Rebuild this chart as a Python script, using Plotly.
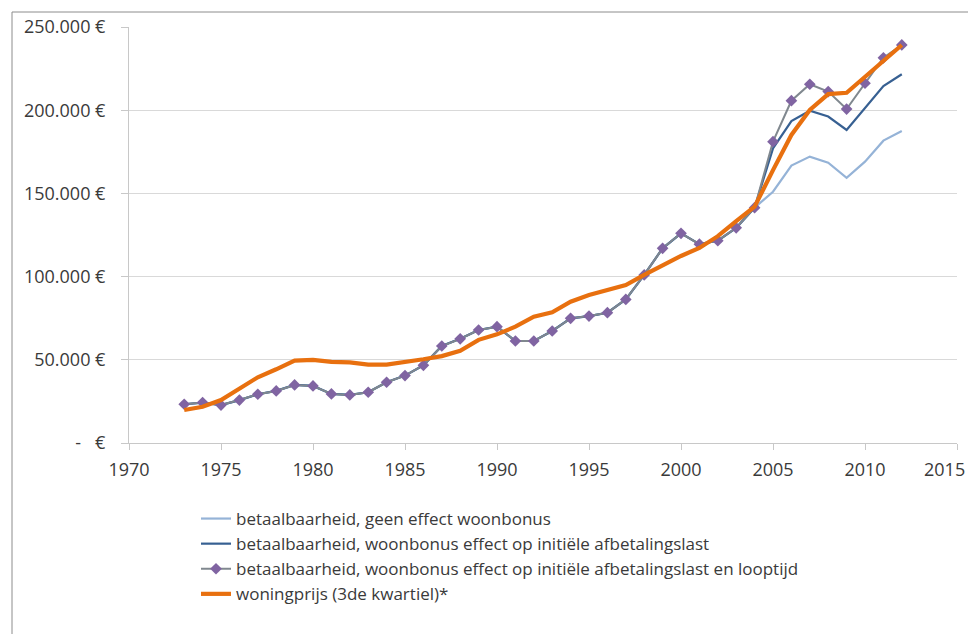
import plotly.graph_objects as go

years = list(range(1973, 2013))

geen_effect = [23300, 24300, 22800, 25800, 29300, 31300, 34900, 34300, 29500, 28900,
               30500, 36500, 40500, 46700, 58300, 62600, 67900, 69900, 61300, 61300,
               67300, 74900, 76300, 78300, 86300, 101000, 117000, 126000, 119500, 121600,
               129300, 141400, 151000, 166700, 172100, 168500, 159400, 169100, 181700, 187500]

initiele_last = [23300, 24300, 22800, 25800, 29300, 31300, 34900, 34300, 29500, 28900,
                 30500, 36500, 40500, 46700, 58300, 62600, 67900, 69900, 61300, 61300,
                 67300, 74900, 76300, 78300, 86300, 101000, 117000, 126000, 119500, 121600,
                 129300, 141400, 177100, 193500, 199700, 196200, 188100, 201100, 214500, 221600]

last_en_looptijd = [23300, 24300, 22800, 25800, 29300, 31300, 34900, 34300, 29500, 28900,
                    30500, 36500, 40500, 46700, 58300, 62600, 67900, 69900, 61300, 61300,
                    67300, 74900, 76300, 78300, 86300, 101000, 117000, 126000, 119500, 121600,
                    129300, 141400, 181100, 205700, 215600, 211200, 200700, 216200, 231500, 239200]

woningprijs = [19800, 21800, 25800, 32800, 39500, 44300, 49500, 49900, 48700, 48500,
               47100, 47100, 48500, 50300, 52200, 55400, 62000, 65300, 69900, 75900,
               78500, 84900, 88900, 91900, 94900, 101000, 107000, 112400, 117200, 124300,
               133300, 142000, 164000, 185100, 200100, 209700, 210500, 219800, 229100, 239200]

series_names = [
    "betaalbaarheid, geen effect woonbonus",
    "betaalbaarheid, woonbonus effect op initiële afbetalingslast",
    "betaalbaarheid, woonbonus effect op initiële afbetalingslast en looptijd",
    "woningprijs (3de kwartiel)*",
]

y_tickvals = [0, 50000, 100000, 150000, 200000, 250000]
y_ticktext = ["-   €", "50.000 €", "100.000 €", "150.000 €", "200.000 €", "250.000 €"]
x_tickvals = [1970, 1975, 1980, 1985, 1990, 1995, 2000, 2005, 2010, 2015]
x_ticktext = ["1970", "1975", "1980", "1985", "1990", "1995", "2000", "2005", "2010", "2015"]

FONT = "'Open Sans', sans-serif"
TXT = "#3a3a3a"

fig = go.Figure()
fig.add_trace(go.Scatter(x=years, y=geen_effect, name=series_names[0], mode="lines",
                         line=dict(color="#95b3d7", width=2.2)))
fig.add_trace(go.Scatter(x=years, y=initiele_last, name=series_names[1], mode="lines",
                         line=dict(color="#376092", width=2.2)))
fig.add_trace(go.Scatter(x=years, y=last_en_looptijd, name=series_names[2], mode="lines+markers",
                         line=dict(color="#80888f", width=2),
                         marker=dict(symbol="diamond", size=9, color="#8064a2")))
fig.add_trace(go.Scatter(x=years, y=woningprijs, name=series_names[3], mode="lines",
                         line=dict(color="#e8700f", width=4.2)))

# page has 8px body margin; figure placed at (8, 8)
OFF = 8
W, H = 968, 626
L, T = 129 - OFF, 27 - OFF
R = W - (957 - OFF)
B = H - (443 - OFF)
pw, ph = W - L - R, H - T - B

# last tick label sits at the window edge: draw it nudged inward so it stays visible
axis_ticktext = x_ticktext[:-1] + [""]

fig.update_layout(
    width=W, height=H,
    margin=dict(l=L, r=R, t=T, b=B, autoexpand=False),
    paper_bgcolor="white", plot_bgcolor="white",
    font=dict(family=FONT, size=17, color=TXT),
    showlegend=True,
    legend=dict(x=(196 - OFF - L) / pw, y=(H - B - (501 - OFF)) / ph,
                xanchor="left", yanchor="top",
                bgcolor="rgba(0,0,0,0)", font=dict(size=17, family=FONT, color=TXT),
                traceorder="normal", itemwidth=30, tracegroupgap=0),
    xaxis=dict(range=[1970, 2015], tickvals=x_tickvals, ticktext=axis_ticktext,
               ticks="outside", ticklen=6,
               tickcolor="#c8c8c8", showgrid=False, showline=True, linecolor="#c8c8c8",
               linewidth=1, zeroline=False, tickfont=dict(size=18, family=FONT, color=TXT),
               ticklabelstandoff=4),
    yaxis=dict(range=[0, 250000], tickvals=y_tickvals, ticktext=y_ticktext, ticks="outside",
               ticklen=7, tickcolor="#c8c8c8", showgrid=True, gridcolor="#d9d9d9", gridwidth=1,
               showline=True, linecolor="#c8c8c8", linewidth=1, zeroline=False,
               tickfont=dict(size=18, family=FONT, color=TXT), ticklabelstandoff=12),
    annotations=[dict(x=x_tickvals[-1], xref="x", y=0, yref="paper", text=x_ticktext[-1],
                      showarrow=False, xanchor="right", xshift=10, yanchor="middle", yshift=-26,
                      font=dict(size=18, family=FONT, color=TXT))],
    shapes=[dict(type="rect", xref="paper", yref="paper",
                 x0=(12 - OFF - L) / pw, x1=(W + 10 - L) / pw,
                 y0=(H - B - (H + 10)) / ph, y1=1 + (T - (12 - OFF)) / ph,
                 line=dict(color="#8c8c8c", width=1), fillcolor="rgba(0,0,0,0)", layer="below")],
)

fig.write_html("out.html")
